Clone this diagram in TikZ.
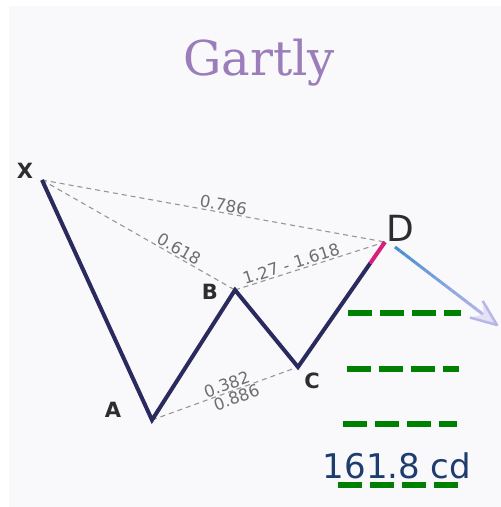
\documentclass[tikz,border=0pt]{standalone}
\usepackage{fontspec}
\setmainfont{DejaVu Sans}
\newfontfamily\titlefont{DejaVu Serif}
\usetikzlibrary{calc}
\definecolor{bgc}{RGB}{249,249,252}
\definecolor{zigc}{RGB}{42,42,94}
\definecolor{magc}{RGB}{214,30,124}
\definecolor{ratioc}{RGB}{150,150,150}
\definecolor{ratiotxt}{RGB}{110,110,110}
\definecolor{titlec}{RGB}{155,125,186}
\definecolor{greenc}{RGB}{0,128,0}
\definecolor{cdc}{RGB}{30,60,110}
\definecolor{arrA}{RGB}{70,140,210}
\definecolor{arrB}{RGB}{200,190,235}
\definecolor{ptc}{RGB}{45,45,45}
\tikzset{
  zig/.style={line width=4pt, zigc},
  mag/.style={line width=4pt, magc},
  ratio/.style={ratioc, line width=1.1pt, dash pattern=on 5pt off 4pt},
  ratiotext/.style={text=ratiotxt, font=\fontsize{16.5}{16.5}\selectfont, inner sep=1pt},
  ptlabel/.style={text=ptc, font=\fontsize{21}{21}\selectfont\bfseries, inner sep=0pt},
  level/.style={greenc, line width=6pt, dash pattern=on 24pt off 8pt},
}
\begin{document}
\begin{tikzpicture}[x=1pt,y=-1pt]
\useasboundingbox (0,0) rectangle (501,507);
\fill[white] (0,0) rectangle (501,507);
\fill[bgc] (9,6) rectangle (501,507);

% title
\node[anchor=base, text=titlec, font=\titlefont\fontsize{48}{48}\selectfont, inner sep=0pt] (title) at (259,75) {Gartly};

% points
\coordinate (X) at (42,180);
\coordinate (A) at (152,420);
\coordinate (B) at (235,290);
\coordinate (C) at (298,367);
\coordinate (D) at (385,242);
\coordinate (M) at ($(C)!0.83!(D)$);

% ratio lines
\draw[ratio] (X) -- node[pos=0.525, sloped, above, ratiotext] (r1) {0.786} (D);
\draw[ratio] (X) -- node[pos=0.69, sloped, above, ratiotext] (r2) {0.618} (B);
\draw[ratio] (B) -- node[pos=0.39, sloped, above, ratiotext] (r3) {1.27 - 1.618} (D);
\draw[ratio] (A) -- node[pos=0.53, sloped, above, ratiotext] (r4) {0.382}
                    node[pos=0.56, sloped, below, ratiotext] (r5) {0.886} (C);

% pattern
\draw[zig] (X) -- (A) -- (B) -- (C) -- (M);
\draw[mag] (M) -- (D);

% labels
\node[ptlabel] (lX) at (25,171) {X};
\node[ptlabel] (lA) at (113,410) {A};
\node[ptlabel] (lB) at (210,292) {B};
\node[ptlabel] (lC) at (312,381) {C};
\node[text=ptc, font=\fontsize{36}{36}\selectfont, inner sep=0pt] (lD) at (400,228) {D};

% projection arrow
\coordinate (s) at (395,247);
\coordinate (t) at (497,325);
\foreach \i in {0,...,19}{
  \pgfmathsetmacro{\p}{\i*5}
  \draw[line width=3pt, color=arrB!\p!arrA] ($(s)!\i/20!(t)$) -- ($(s)!{(\i+1)/20}!(t)$);
}
\coordinate (h1) at ($(t)!28pt!22:(s)$);
\coordinate (h2) at ($(t)!28pt!-22:(s)$);
\coordinate (hn) at ($(t)!17pt!(s)$);
\fill[arrB!40!bgc] (t) -- (h1) -- (hn) -- (h2) -- cycle;
\draw[arrB!85!arrA, line width=2.5pt, line join=round] (h1) -- (t) -- (h2);

% target levels
\draw[level] (348,313) -- (461,313);
\draw[level] (347,369) -- (459,369);
\draw[level] (343,424) -- (457,424);
\draw[level] (338,485) -- (458,485);
\node[text=cdc, font=\fontsize{34}{34}\selectfont, inner sep=0pt] (cd) at (397,466) {161.8 cd};
\end{tikzpicture}
\end{document}
